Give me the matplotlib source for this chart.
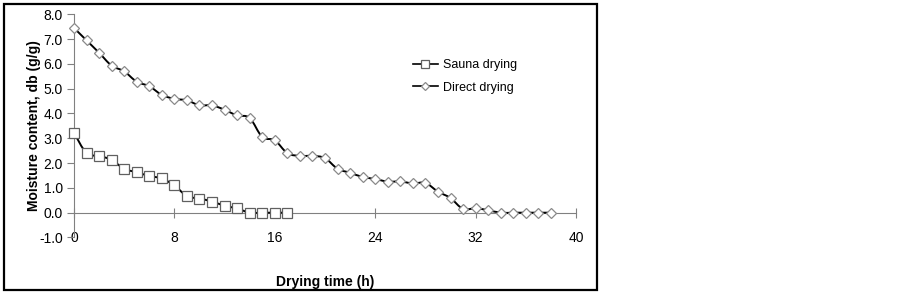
import matplotlib
matplotlib.use('Agg')
import matplotlib.pyplot as plt
from matplotlib.path import Path
from matplotlib.patches import PathPatch, Rectangle
from matplotlib.lines import Line2D

plt.rcParams['font.family'] = ['Liberation Sans', 'DejaVu Sans']

# drying time (h) and moisture content (g/g, dry basis)
sauna_time = list(range(0, 18))
sauna_mc = [3.23, 2.40, 2.29, 2.13, 1.77, 1.63, 1.48, 1.38, 1.10, 0.67,
            0.57, 0.45, 0.28, 0.17, 0.0, 0.0, 0.0, 0.0]

direct_time = list(range(0, 39))
direct_mc = [7.45, 6.95, 6.45, 5.93, 5.70, 5.28, 5.10, 4.75, 4.59, 4.53,
             4.33, 4.33, 4.15, 3.92, 3.82, 3.05, 2.92, 2.40, 2.29, 2.29,
             2.20, 1.77, 1.61, 1.44, 1.36, 1.25, 1.26, 1.18, 1.20, 0.85,
             0.59, 0.15, 0.18, 0.10, 0.0, 0.0, 0.0, 0.0, 0.0]

x_ticks = [0, 8, 16, 24, 32, 40]
y_ticks = [-1, 0, 1, 2, 3, 4, 5, 6, 7, 8]


def smooth_path(xs, ys):
    # excel-like smoothed line: catmull-rom as cubic bezier
    pts = list(zip(xs, ys))
    n = len(pts)
    verts = [pts[0]]
    codes = [Path.MOVETO]
    for i in range(n - 1):
        p0 = pts[i - 1] if i > 0 else pts[i]
        p1 = pts[i]
        p2 = pts[i + 1]
        p3 = pts[i + 2] if i + 2 < n else pts[i + 1]
        c1 = (p1[0] + (p2[0] - p0[0]) / 6, p1[1] + (p2[1] - p0[1]) / 6)
        c2 = (p2[0] - (p3[0] - p1[0]) / 6, p2[1] - (p3[1] - p1[1]) / 6)
        verts += [c1, c2, p2]
        codes += [Path.CURVE4] * 3
    return Path(verts, codes)


fig = plt.figure(figsize=(9.03, 2.94), dpi=100)
ax = fig.add_axes([0.0819, 0.1922, 0.556, 0.7592])

grey = '#808080'
for xs, ys, mk, ms, ec in [(sauna_time, sauna_mc, 's', 7.5, '#606060'),
                            (direct_time, direct_mc, 'D', 5, '#8a8a8a')]:
    ax.add_patch(PathPatch(smooth_path(xs, ys), fill=False, edgecolor='black', lw=1.4,
                           zorder=2, clip_on=False))
    ax.plot(xs, ys, linestyle='none', marker=mk, ms=ms, mfc='white', mec=ec, mew=0.9,
            zorder=3, clip_on=False)

ax.set_xlim(0, 40)
ax.set_ylim(-1, 8)
ax.set_xticks(x_ticks)
ax.set_yticks(y_ticks)
ax.set_yticklabels(['%.1f' % v for v in y_ticks])

for s in ['top', 'right']:
    ax.spines[s].set_visible(False)
ax.spines['bottom'].set_position(('data', 0))
ax.spines['bottom'].set_color(grey)
ax.spines['left'].set_color(grey)
ax.spines['bottom'].set_zorder(1)
ax.tick_params(axis='y', direction='out', length=5, color=grey, labelsize=10, pad=3)
ax.tick_params(axis='x', direction='inout', length=7, color=grey, labelsize=10, pad=10)

ax.set_ylabel('Moisture content, db (g/g)', fontweight='bold', fontsize=10, labelpad=-1.5)
ax.text(0.5, -0.2, 'Drying time (h)', transform=ax.transAxes, ha='center', va='center',
        fontweight='bold', fontsize=10)

handles = [Line2D([], [], color='black', lw=1.2, marker='s', ms=6, mfc='white', mec='#606060', mew=0.9),
           Line2D([], [], color='black', lw=1.2, marker='D', ms=4.5, mfc='white', mec='#8a8a8a', mew=0.9)]
ax.legend(handles, ['Sauna drying', 'Direct drying'], loc='upper left',
          bbox_to_anchor=(0.675, 0.80), frameon=False, fontsize=9, borderpad=0,
          borderaxespad=0, handlelength=2.0, handletextpad=0.4, labelspacing=0.85)

fig.add_artist(Rectangle((4 / 903, 4 / 294), 593 / 903, 286 / 294, transform=fig.transFigure,
                         fill=False, edgecolor='black', lw=1.6))

fig.savefig('out.png', dpi=100)
